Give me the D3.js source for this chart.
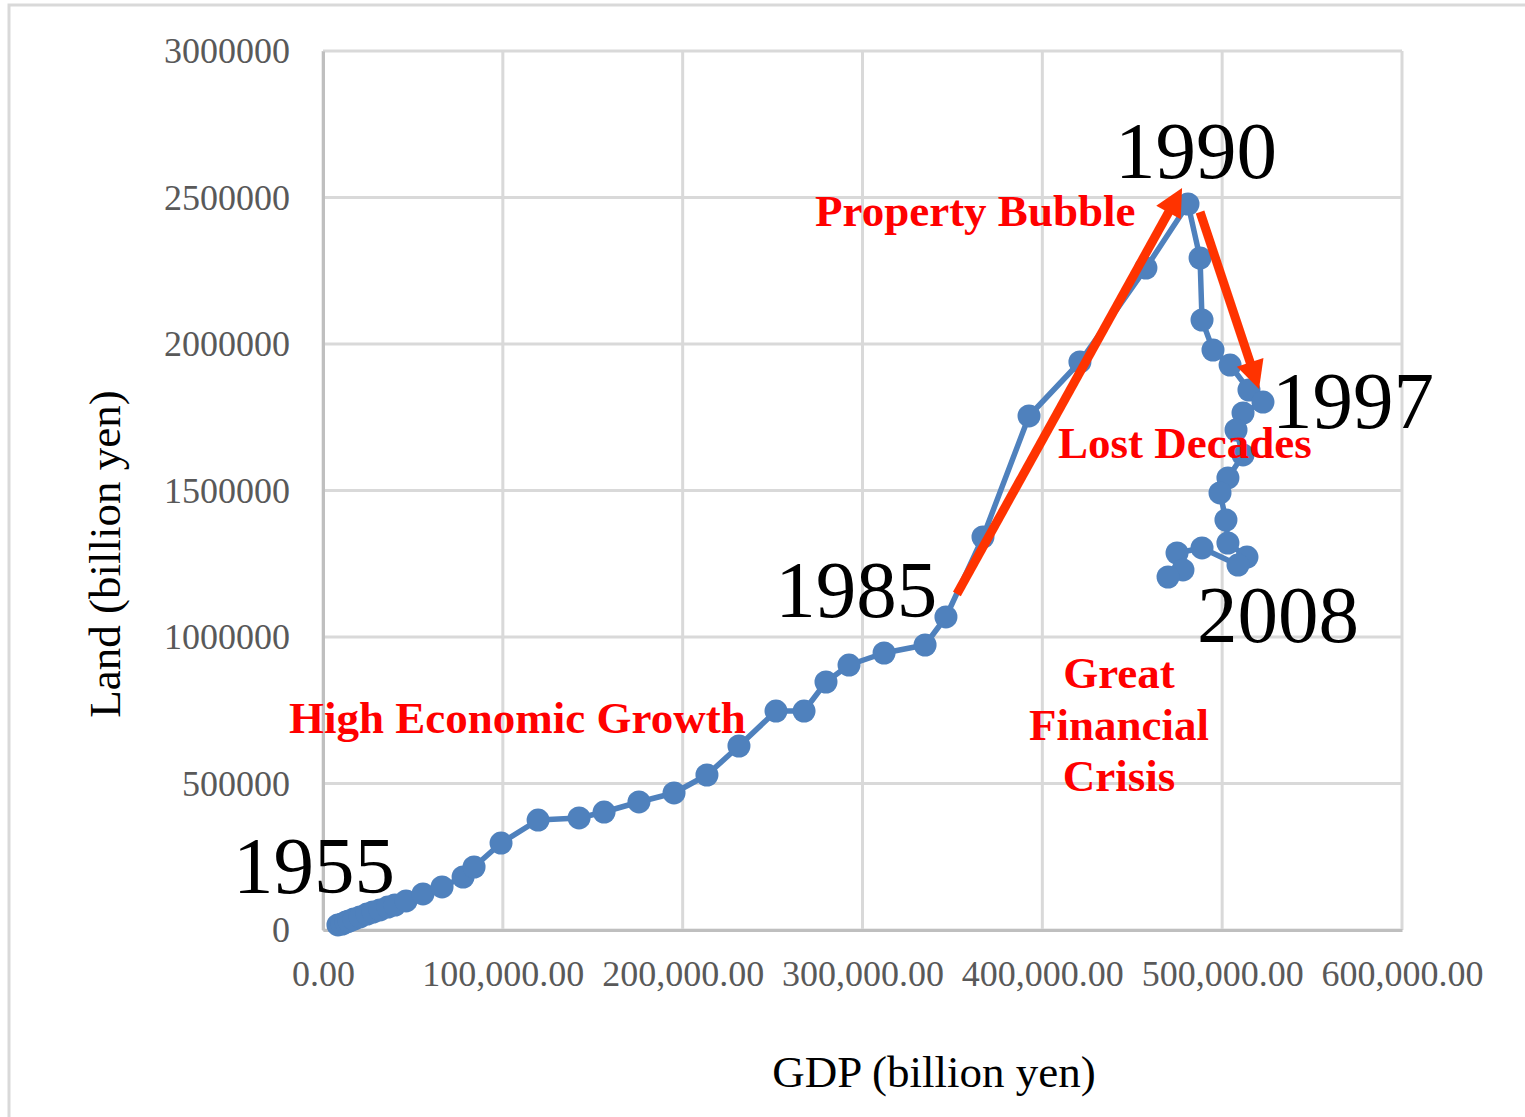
<!DOCTYPE html>
<html>
<head>
<meta charset="utf-8">
<script src="https://cdn.jsdelivr.net/npm/d3@7"></script>
<style>
  html, body { margin: 0; padding: 0; background: #ffffff; }
  svg { display: block; }
</style>
</head>
<body>
<svg id="chart" width="1525" height="1117"></svg>
<script>
// Nominal GDP (billion yen), one value per year from 1955 onward
const gdp = [
  8300, 10600, 12800, 14500, 17200, 20600, 24500, 27800, 31700, 36100,
  40000, 46200, 55600, 66200, 77900, 84000, 99000, 119600, 142400, 156300,
  175700, 195200, 213500, 231300, 251900, 267500, 279700, 292500, 312000, 334800,
  346400, 367000, 392600, 420900, 457600, 481000,
  487700, 488800, 494900, 504400, 514900, 522700,
  511600, 507700, 511600, 503200, 498800, 502100, 503200, 513800, 508800,
  488800, 474900, 478200, 469900
];

// Land assets (billion yen), same years
const land = [
  17100, 20500, 27300, 30700, 37500, 44400, 54600, 61400, 68300, 78500,
  85300, 99000, 122900, 146800, 180900, 215000, 296900, 375400, 382300, 402700,
  436900, 467600, 529000, 628000, 747400, 747400, 846400, 904400, 945400, 972700,
  1068300, 1341300, 1754300, 1938600, 2259400, 2477800,
  2293500, 2081900, 1979500, 1928300, 1843000, 1802000,
  1764500, 1706500, 1621200, 1542700, 1491500, 1399300, 1320800, 1273000, 1245700,
  1303800, 1286700, 1228700, 1204800
];

const xTicks = [0, 100000, 200000, 300000, 400000, 500000, 600000];
const yTicks = [0, 500000, 1000000, 1500000, 2000000, 2500000, 3000000];

// Year callouts placed in data space
const yearLabels = ["1955", "1985", "1990", "1997", "2008"];
const yearLabelX = [-50000, 251500, 440400, 527700, 486000];
const yearLabelY = [126300, 1068300, 2566500, 1713300, 982900];

// Period captions (red, bold)
const periodLines = ["Property Bubble", "Lost Decades", "Great", "Financial", "Crisis", "High Economic Growth"];
const periodX = [273600, 408700, 442600, 442600, 442600, -18900];
const periodY = [2402700, 1610900, 825900, 648500, 474400, 672400];
const periodAnchor = ["start", "start", "middle", "middle", "middle", "start"];

// Trend arrows: [startGDP, startLand, endGDP, endLand]
const arrowFromX = [352500, 487700];
const arrowFromY = [1146800, 2450500];
const arrowToX = [477700, 520500];
const arrowToY = [2532400, 1846400];

const svg = d3.select("#chart");
const W = 1525, H = 1117;
const serif = "'Liberation Serif', 'Times New Roman', Times, serif";

// Outer chart frame
svg.append("rect")
  .attr("x", 9).attr("y", 5)
  .attr("width", W + 20).attr("height", H + 20)
  .attr("fill", "#ffffff")
  .attr("stroke", "#d9d9d9").attr("stroke-width", 3);

const x = d3.scaleLinear().domain([0, 600000]).range([323, 1402]);
const y = d3.scaleLinear().domain([0, 3000000]).range([930, 51]);

// Gridlines
const grid = svg.append("g");
grid.selectAll("line.h").data(yTicks).join("line")
  .attr("x1", x(0)).attr("x2", x(600000))
  .attr("y1", d => y(d)).attr("y2", d => y(d))
  .attr("stroke", "#d9d9d9").attr("stroke-width", 3);
grid.selectAll("line.v").data(xTicks).join("line")
  .attr("x1", d => x(d)).attr("x2", d => x(d))
  .attr("y1", y(0)).attr("y2", y(3000000))
  .attr("stroke", "#d9d9d9").attr("stroke-width", 3);

// Axes
const xAxis = svg.append("g")
  .attr("transform", `translate(0,${y(0)})`)
  .call(d3.axisBottom(x).tickValues(xTicks).tickFormat(d3.format(",.2f")).tickSize(0).tickPadding(30));
const yAxis = svg.append("g")
  .attr("transform", `translate(${x(0)},0)`)
  .call(d3.axisLeft(y).tickValues(yTicks).tickFormat(d3.format("d")).tickSize(0).tickPadding(33));
[xAxis, yAxis].forEach(a => {
  a.select(".domain").attr("stroke", "#bfbfbf").attr("stroke-width", 3);
  a.selectAll("text")
    .attr("fill", "#595959")
    .style("font-family", serif)
    .style("font-size", "36px");
});

// Axis titles
svg.append("text")
  .attr("x", 934).attr("y", 1087)
  .attr("text-anchor", "middle")
  .style("font-family", serif).style("font-size", "45px")
  .attr("fill", "#000000")
  .text("GDP (billion yen)");
svg.append("text")
  .attr("transform", "translate(120,554) rotate(-90)")
  .attr("text-anchor", "middle")
  .style("font-family", serif).style("font-size", "45px")
  .attr("fill", "#000000")
  .text("Land (billion yen)");

// Series
const pts = gdp.map((g, i) => [g, land[i]]);
svg.append("path")
  .datum(pts)
  .attr("fill", "none")
  .attr("stroke", "#4f81bd")
  .attr("stroke-width", 5.5)
  .attr("stroke-linejoin", "round")
  .attr("d", d3.line().x(d => x(d[0])).y(d => y(d[1])));
svg.append("g").selectAll("circle").data(pts).join("circle")
  .attr("cx", d => x(d[0])).attr("cy", d => y(d[1]))
  .attr("r", 11.5)
  .attr("fill", "#4f81bd");

// Arrows
const arrowColor = "#ff3300";
const headLen = 28, headHalf = 14;
const arrows = svg.append("g");
arrowFromX.forEach((fx, i) => {
  const x0 = x(fx), y0 = y(arrowFromY[i]);
  const x1 = x(arrowToX[i]), y1 = y(arrowToY[i]);
  const dx = x1 - x0, dy = y1 - y0, len = Math.hypot(dx, dy);
  const ux = dx / len, uy = dy / len;
  const bx = x1 - ux * headLen, by = y1 - uy * headLen;
  arrows.append("line")
    .attr("x1", x0).attr("y1", y0)
    .attr("x2", bx + ux * 2).attr("y2", by + uy * 2)
    .attr("stroke", arrowColor).attr("stroke-width", 9);
  arrows.append("polygon")
    .attr("points", [
      [x1, y1],
      [bx - uy * headHalf, by + ux * headHalf],
      [bx + uy * headHalf, by - ux * headHalf]
    ].map(p => p.join(",")).join(" "))
    .attr("fill", arrowColor);
});

// Year callouts
svg.append("g").selectAll("text").data(yearLabels).join("text")
  .attr("x", (d, i) => x(yearLabelX[i]))
  .attr("y", (d, i) => y(yearLabelY[i]))
  .style("font-family", serif).style("font-size", "81px")
  .attr("fill", "#000000")
  .text(d => d);

// Period captions
svg.append("g").selectAll("text").data(periodLines).join("text")
  .attr("x", (d, i) => x(periodX[i]))
  .attr("y", (d, i) => y(periodY[i]))
  .attr("text-anchor", (d, i) => periodAnchor[i])
  .style("font-family", serif).style("font-size", "45px").style("font-weight", "bold")
  .attr("fill", "#ff0000")
  .text(d => d);
</script>
</body>
</html>
